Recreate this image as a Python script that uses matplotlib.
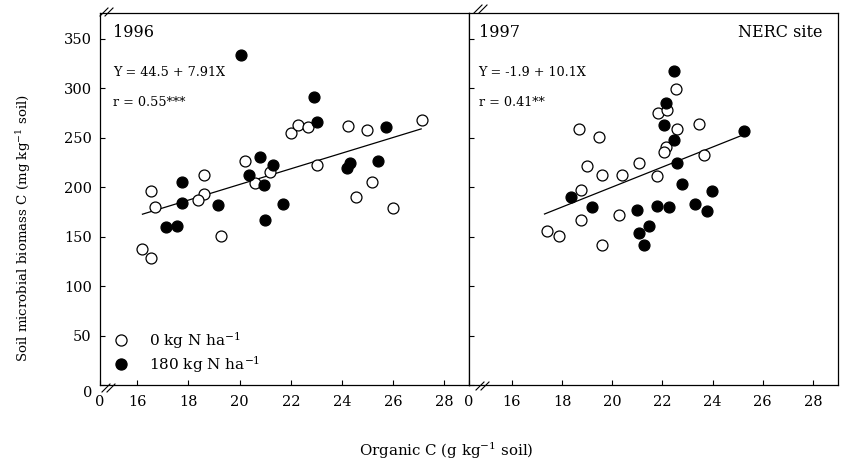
import matplotlib
matplotlib.use('Agg')
import matplotlib.pyplot as plt
from matplotlib.lines import Line2D

plt.rcParams['font.family'] = ['DejaVu Serif']
plt.rcParams['mathtext.fontset'] = 'dejavuserif'

# ---------------- data ----------------
# 1996, 0 kg N (open)
x96_0 = [27.15, 24.25, 24.98, 22.0, 22.29, 22.68, 23.02, 20.21, 21.18, 20.62, 18.61,
         18.59, 16.52, 25.18, 24.54, 26.01, 18.37, 16.69, 19.26, 16.18, 16.54]
y96_0 = [268, 262, 258, 255, 263, 261, 222, 226, 215, 204, 212,
         193, 196, 205, 190, 179, 187, 180, 151, 137, 128]
# 1996, 180 kg N (filled)
x96_180 = [20.04, 22.92, 23.03, 25.74, 20.81, 21.3, 20.38, 20.95, 24.2, 24.3, 25.43,
           17.73, 17.75, 21.71, 19.17, 17.13, 17.57, 20.99]
y96_180 = [334, 291, 266, 261, 230, 222, 212, 202, 219, 224, 226,
           205, 184, 183, 182, 160, 161, 167]
# 1997, 0 kg N (open)
x97_0 = [22.54, 21.84, 22.17, 22.57, 23.47, 18.69, 19.47, 22.16, 22.08, 23.67, 21.07,
         18.99, 19.58, 20.38, 21.77, 18.77, 18.77, 20.27, 17.39, 17.89, 19.58]
y97_0 = [299, 275, 278, 259, 264, 259, 251, 241, 235, 232, 224,
         221, 212, 212, 211, 197, 167, 172, 156, 151, 142]
# 1997, 180 kg N (filled)
x97_180 = [22.45, 22.16, 22.07, 22.46, 25.27, 22.57, 22.78, 23.98, 18.37, 23.29, 19.18,
           20.98, 21.79, 22.28, 23.79, 21.48, 21.07, 21.28]
y97_180 = [317, 285, 263, 248, 257, 224, 203, 196, 190, 183, 180,
           177, 181, 180, 176, 161, 154, 142]

# regression lines (intercept, slope, x range)
reg96 = (44.5, 7.91, 16.2, 27.1)
reg97 = (-1.9, 10.1, 17.3, 25.2)

xticks = [16, 18, 20, 22, 24, 26, 28]
yticks = [0, 50, 100, 150, 200, 250, 300, 350]

W, H = 841, 465
fig = plt.figure(figsize=(W / 100, H / 100), dpi=100)

def px_ax(l, b, r, t):
    return [l / W, (H - b) / H, (r - l) / W, (b - t) / H]

axL = fig.add_axes(px_ax(100, 385, 469, 13))
axR = fig.add_axes(px_ax(469, 385, 838, 13))

panels = [
    (axL, x96_0, y96_0, x96_180, y96_180, reg96, 14.54, 28.97,
     '1996', 'Y = 44.5 + 7.91X', 'r = 0.55***', True),
    (axR, x97_0, y97_0, x97_180, y97_180, reg97, 14.29, 29.0,
     '1997', 'Y = -1.9 + 10.1X', 'r = 0.41**', False),
]

for (ax, xo, yo, xf, yf, reg, x0, x1, year, eq, rr, first) in panels:
    a, b, ra, rb = reg
    ax.plot([ra, rb], [a + b * ra, a + b * rb], color='black', lw=0.9, zorder=2)
    ax.scatter(xo, yo, s=62, facecolor='white', edgecolor='black', linewidth=0.9, zorder=3)
    ax.scatter(xf, yf, s=62, facecolor='black', edgecolor='black', linewidth=0.9, zorder=3)
    ax.set_xlim(x0, x1)
    ax.set_ylim(0, 376)
    ax.set_xticks([x0] + xticks)
    ax.set_xticklabels(['0'] + [str(t) for t in xticks])
    ax.set_yticks(yticks)
    if first:
        ax.set_yticklabels([''] + [str(t) for t in yticks[1:]])
        ax.text(-8 / 369, -8 / 372, '0', transform=ax.transAxes, ha='right', va='center',
                fontsize=10.5)
    else:
        ax.set_yticklabels([])
    ax.tick_params(axis='both', direction='in', length=3.5, width=0.8, labelsize=10.5)
    ax.tick_params(axis='x', pad=7)
    ax.tick_params(axis='y', pad=6)
    for sp in ax.spines.values():
        sp.set_linewidth(0.9)
    ax.text(0.035 if first else 0.026, 0.935, year, transform=ax.transAxes,
            fontsize=11.5, va='baseline', ha='left')
    ax.text(0.035 if first else 0.026, 0.83, eq, transform=ax.transAxes,
            fontsize=9.2, va='baseline', ha='left')
    ax.text(0.035 if first else 0.026, 0.75, rr, transform=ax.transAxes,
            fontsize=9.2, va='baseline', ha='left')

axR.text(0.959, 0.935, 'NERC site', transform=axR.transAxes, fontsize=11.5,
         va='baseline', ha='right')

# axis break marks
def brk(ax, cx_px, cy_px):
    for dx in (-3, 2):
        xs = [(cx_px + dx - 4) / 369, (cx_px + dx + 4) / 369]
        ys = [(cy_px - 4) / 372, (cy_px + 4) / 372]
        ax.add_line(Line2D(xs, ys, transform=ax.transAxes, color='black', lw=0.8,
                           clip_on=False, zorder=5))

brk(axL, 9, -3)
brk(axL, 7, 372 + 1)
brk(axR, 14, -1)
brk(axR, 12, 372 + 4)

# legend
h0 = Line2D([], [], marker='o', ls='none', ms=8, mfc='white', mec='black', mew=0.9)
h1 = Line2D([], [], marker='o', ls='none', ms=8, mfc='black', mec='black', mew=0.9)
axL.legend([h0, h1], [r'0 kg N ha$^{-1}$', r'180 kg N ha$^{-1}$'],
           loc='lower left', bbox_to_anchor=(0.024, 0.015), frameon=False,
           fontsize=11, handlelength=1.0, handletextpad=1.35, labelspacing=0.22,
           borderpad=0.3, borderaxespad=0.0)

fig.text(24 / W, (H - 228) / H, r'Soil microbial biomass C (mg kg$^{-1}$ soil)',
         rotation=90, ha='center', va='center', fontsize=9.6)
fig.text(446 / W, (H - 451) / H, r'Organic C (g kg$^{-1}$ soil)',
         ha='center', va='center', fontsize=10.8)

fig.savefig('out.png', dpi=100)
